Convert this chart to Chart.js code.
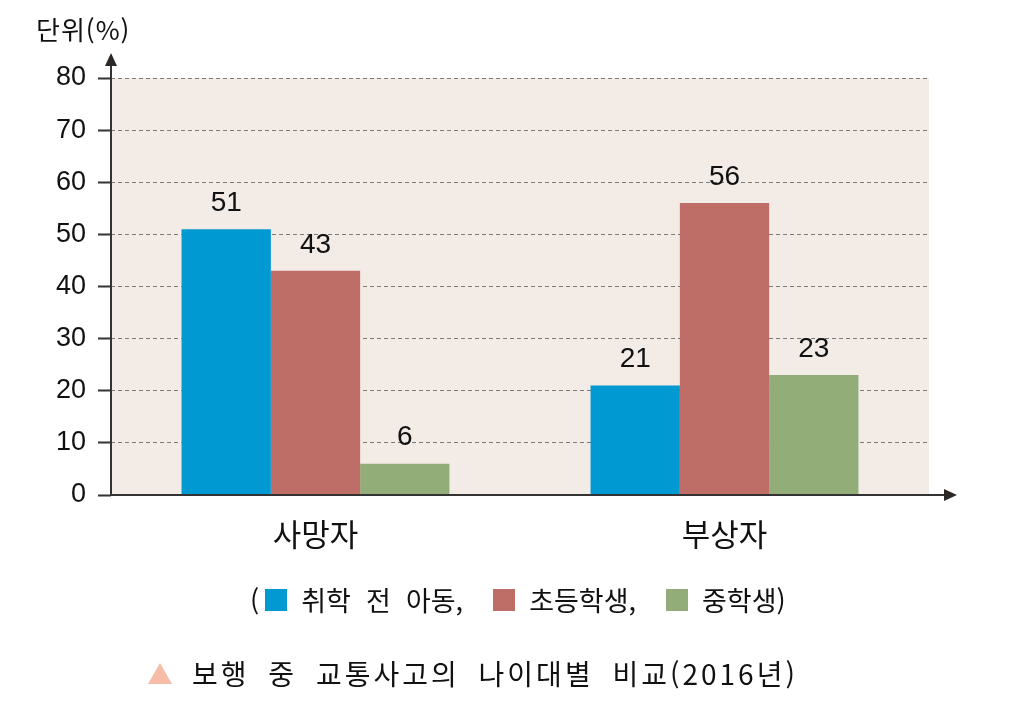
<!DOCTYPE html>
<html lang="ko">
<head>
<meta charset="utf-8">
<script src="https://cdn.jsdelivr.net/npm/chart.js@4/dist/chart.umd.min.js"></script>
<style>
  body { margin: 0; background: #fff; }
  .wrap { position: relative; width: 1012px; height: 709px; overflow: hidden; }
  .wrap canvas { position: absolute; left: 0; top: 0; }
  .unit { position: absolute; left: 36px; top: 10px; font: 26px "Noto Sans CJK KR", "Liberation Sans", sans-serif; color: #111; letter-spacing: 1px; }
  .legend { position: absolute; left: 250px; top: 580px; font: 27px "Noto Sans CJK KR", sans-serif; color: #111; display: flex; align-items: center; white-space: pre; }
  .legend .sw { display: inline-block; width: 22px; height: 22px; margin: 0 14px 0 6px; }
  .legend .gap { width: 24px; }
  .caption { position: absolute; left: 148px; top: 653px; font: 28px "Noto Sans CJK KR", sans-serif; color: #111; display: flex; align-items: center; white-space: pre; letter-spacing: 3px; word-spacing: 8px; }
  .tri { width: 0; height: 0; border-left: 12px solid transparent; border-right: 12px solid transparent; border-bottom: 21px solid #f7bca8; margin-right: 20px; }
</style>
</head>
<body>
<div class="wrap">
  <canvas id="chart" width="1012" height="709"></canvas>
  <div class="unit">단위(%)</div>
  <div class="legend" id="legend"></div>
  <div class="caption"><span class="tri"></span>보행 중 교통사고의 나이대별 비교(2016년)</div>
</div>
<script>
const categories = ['사망자', '부상자'];
const seriesNames = ['취학 전 아동', '초등학생', '중학생'];
const preschool = [51, 21];
const elementary = [43, 56];
const middle = [6, 23];
const colors = ['#0099d1', '#be6e67', '#92ad78'];
const yMax = 80;
const yStep = 10;

// legend as plain text
const legend = document.getElementById('legend');
let html = '(';
seriesNames.forEach((name, i) => {
    html += '<span class="sw" style="background:' + colors[i] + '"></span>' + name.split(' ').join('  ');
    html += i < seriesNames.length - 1 ? ',<span class="gap"></span>' : ')';
});
legend.innerHTML = html;

const plotBg = {
    id: 'plotBg',
    beforeDraw(chart) {
        const { ctx, chartArea: a } = chart;
        ctx.save();
        ctx.fillStyle = '#f2ebe6';
        ctx.fillRect(a.left, a.top, a.right - a.left, a.bottom - a.top);
        ctx.restore();
    }
};

const axesArrows = {
    id: 'axesArrows',
    afterDatasetsDraw(chart) {
        const { ctx, chartArea: a } = chart;
        ctx.save();
        ctx.strokeStyle = '#333';
        ctx.fillStyle = '#2b2825';
        ctx.lineWidth = 2;
        ctx.beginPath();
        ctx.moveTo(a.left, a.bottom);
        ctx.lineTo(a.left, a.top - 18);
        ctx.moveTo(a.left, a.bottom);
        ctx.lineTo(a.right + 20, a.bottom);
        ctx.stroke();
        // y arrow
        ctx.beginPath();
        ctx.moveTo(a.left, a.top - 25);
        ctx.lineTo(a.left - 6, a.top - 12);
        ctx.lineTo(a.left + 6, a.top - 12);
        ctx.closePath();
        ctx.fill();
        // x arrow
        ctx.beginPath();
        ctx.moveTo(a.right + 28, a.bottom);
        ctx.lineTo(a.right + 15, a.bottom - 6);
        ctx.lineTo(a.right + 15, a.bottom + 6);
        ctx.closePath();
        ctx.fill();
        ctx.restore();
    }
};

const valueLabels = {
    id: 'valueLabels',
    afterDatasetsDraw(chart) {
        const { ctx } = chart;
        ctx.save();
        ctx.font = '28px "Liberation Sans", Arial, sans-serif';
        ctx.fillStyle = '#111';
        ctx.textAlign = 'center';
        ctx.textBaseline = 'bottom';
        chart.data.datasets.forEach((ds, i) => {
            chart.getDatasetMeta(i).data.forEach((bar, j) => {
                ctx.fillText(ds.data[j], bar.x, bar.y - 12);
            });
        });
        ctx.restore();
    }
};

new Chart(document.getElementById('chart'), {
    type: 'bar',
    data: {
        labels: categories,
        datasets: [preschool, elementary, middle].map((d, i) => ({
            label: seriesNames[i],
            data: d,
            backgroundColor: colors[i],
            borderWidth: 0,
            categoryPercentage: 0.655,
            barPercentage: 1.0
        }))
    },
    options: {
        responsive: false,
        animation: false,
        layout: { padding: { left: 0, top: 78, right: 83, bottom: 154 } },
        plugins: { legend: { display: false }, tooltip: { enabled: false } },
        scales: {
            x: {
                grid: { display: false },
                border: { display: false },
                ticks: {
                    color: '#111',
                    padding: 13,
                    font: { family: '"Noto Sans CJK KR", sans-serif', size: 31 }
                },
                afterFit(scale) { scale.height = 60; }
            },
            y: {
                min: 0,
                max: yMax,
                border: { display: false, dash: [4, 3] },
                grid: {
                    color: '#7a7a7a',
                    lineWidth: 1,
                    tickColor: '#333',
                    tickLength: 13,
                    tickWidth: 2
                },
                ticks: {
                    stepSize: yStep,
                    color: '#111',
                    padding: 12,
                    font: { family: '"Liberation Sans", Arial, sans-serif', size: 27 }
                },
                afterFit(scale) { scale.width = 111; }
            }
        }
    },
    plugins: [plotBg, axesArrows, valueLabels]
});
</script>
</body>
</html>
